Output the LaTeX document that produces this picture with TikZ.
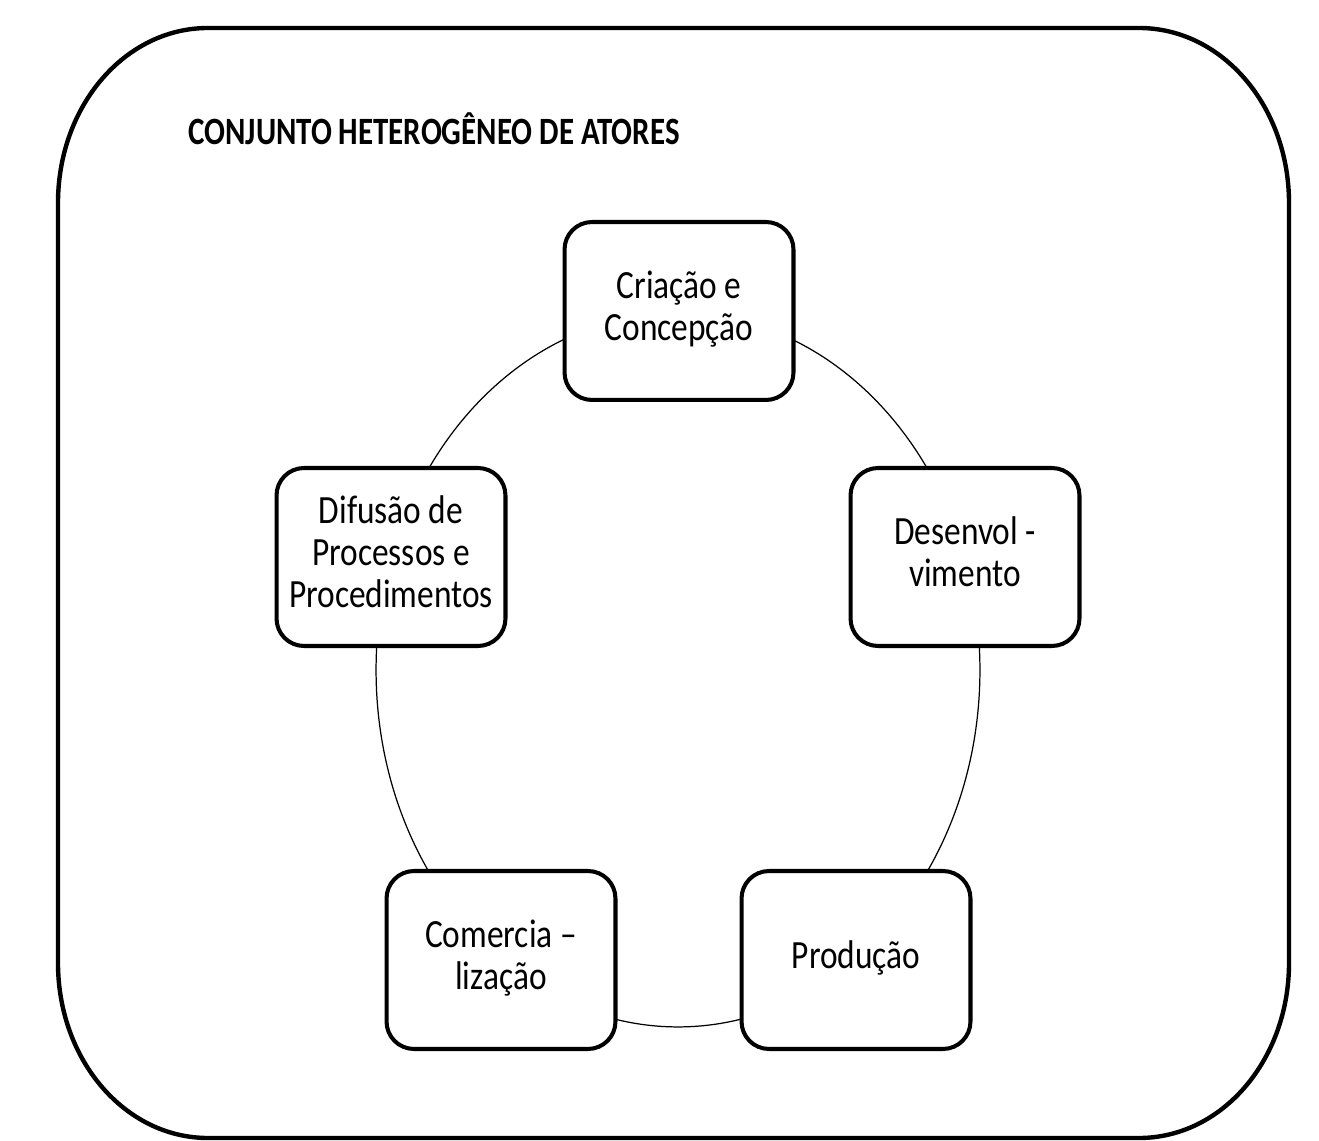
\documentclass[tikz,border=0pt]{standalone}
\usepackage{graphicx}
\usepackage{fontspec}
\setmainfont{Carlito}
\newcommand{\vstr}[1]{\scalebox{1}[1.2]{\begin{tabular}{@{}c@{}}#1\end{tabular}}}
\tikzset{
	etapa/.style={draw,line width=2.3pt,fill=white,rounded corners=0.55cm,
		minimum width=4.58cm,minimum height=3.56cm,inner sep=0pt,
		font=\fontsize{19}{20}\selectfont},
	titulo/.style={anchor=base west,inner sep=0pt,font=\bfseries\fontsize{17.6}{18}\selectfont}
}
\begin{document}
\begin{tikzpicture}[x=0.02cm,y=-0.02cm]
	\useasboundingbox (0,0) rectangle (1319,1141);
	% moldura
	\draw[line width=2.5pt] (58,203) .. controls (58,106) and (125,28) .. (208,28) -- (1139,28)
		.. controls (1222,28) and (1289,106) .. (1289,203) -- (1289,963)
		.. controls (1289,1060) and (1222,1138) .. (1139,1138) -- (208,1138)
		.. controls (125,1138) and (58,1060) .. (58,963) -- cycle;
	\node[titulo] (tit) at (188,145) {\scalebox{1}[1.25]{CONJUNTO HETEROGÊNEO DE ATORES}};
	% anel
	\coordinate (anel) at (678,670);
	\draw[line width=0.7pt] (anel) ellipse [x radius=6.04cm,y radius=7.14cm];
	% etapas
	\node[etapa] (criacao) at (679,311) {\vstr{Criação e\\Concepção}};
	\node[etapa] (desenv) at (965,557) {\vstr{Desenvol -\\vimento}};
	\node[etapa] (producao) at (856,960) {\vstr{Produção}};
	\node[etapa] (comerc) at (501,960) {\vstr{Comercia –\\lização}};
	\node[etapa] (difusao) at (391,557) {\vstr{Difusão de\\Processos e\\Procedimentos}};
\end{tikzpicture}
\end{document}
